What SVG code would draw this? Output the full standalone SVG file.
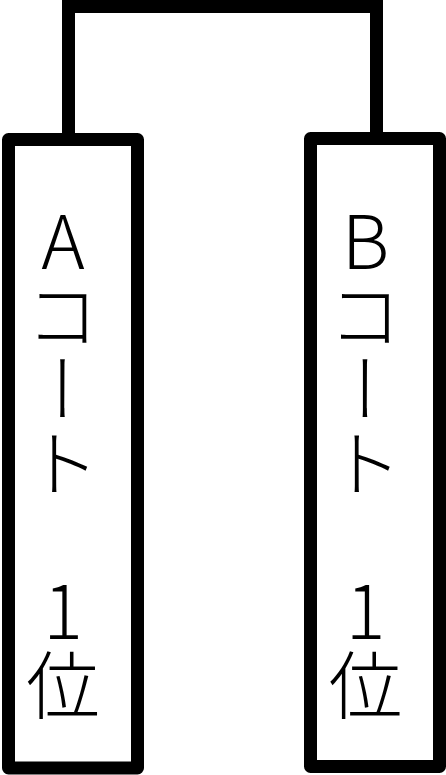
<svg xmlns="http://www.w3.org/2000/svg" width="446" height="775" viewBox="0 0 446 775">
<style>
.box{fill:#fff;stroke:#000;stroke-width:13;stroke-linejoin:round}
.conn{fill:none;stroke:#000;stroke-width:13;stroke-linejoin:miter}
.lbl{font-family:"Noto Sans CJK JP","Noto Sans",sans-serif;font-size:74px;fill:#000;writing-mode:vertical-rl;text-orientation:upright;font-weight:300}
</style>
<rect x="0" y="0" width="446" height="775" fill="#fff"/>
<g id="connectors">
<polyline class="conn" points="68.5,134 68.5,6.5 376.5,6.5 376.5,133"/>
</g>
<g id="nodeA">
<rect class="box" x="8.5" y="139.5" width="129" height="628.5"/>
<text class="lbl" x="63" y="204">Aコート　1位</text>
</g>
<g id="nodeB">
<rect class="box" x="310.5" y="138.5" width="129" height="628"/>
<text class="lbl" x="365.5" y="204">Bコート　1位</text>
</g>
</svg>
